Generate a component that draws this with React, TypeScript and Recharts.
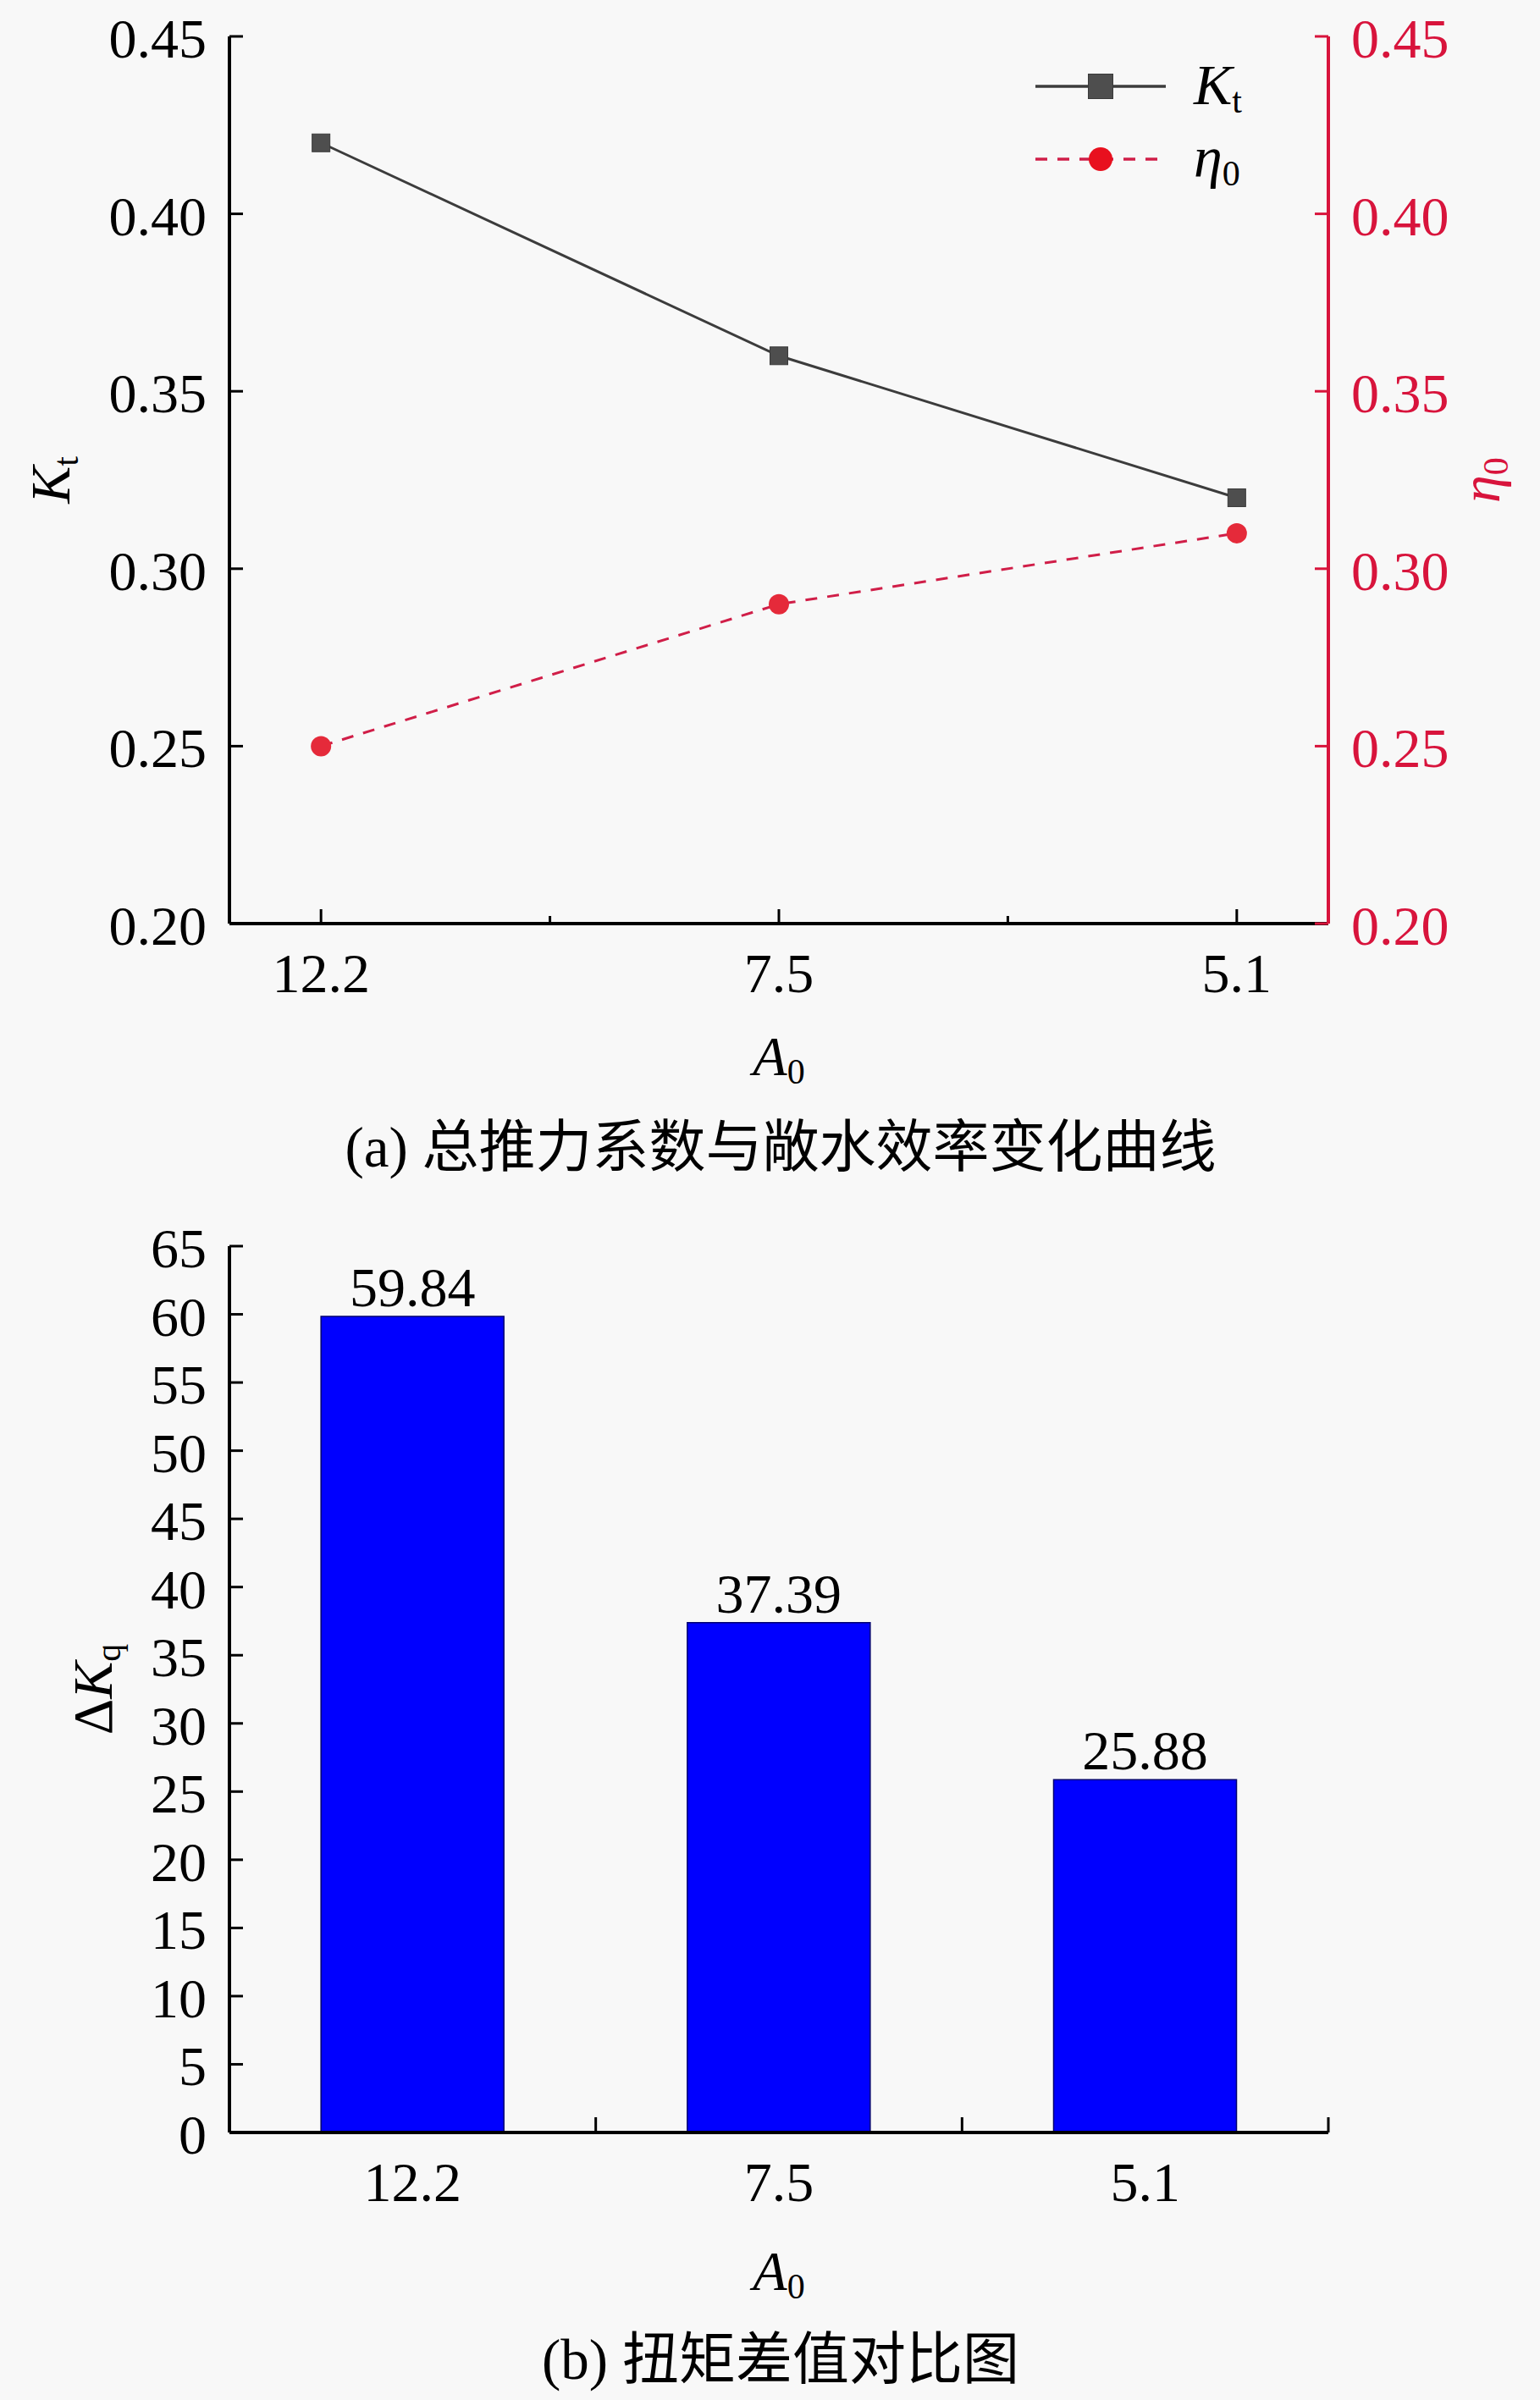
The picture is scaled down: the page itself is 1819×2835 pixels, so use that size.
import React from "react";
import {
  LineChart,
  Line,
  BarChart,
  Bar,
  XAxis,
  YAxis,
  Legend,
  Label,
  LabelList,
} from "recharts";

// values
const A0_LABELS = ["12.2", "7.5", "5.1"];
const KT_VALUES = [0.42, 0.36, 0.32];
const ETA_VALUES = [0.25, 0.29, 0.31];
const DKQ_VALUES = [59.84, 37.39, 25.88];

const LINE_Y_TICKS = [0.2, 0.25, 0.3, 0.35, 0.4, 0.45];
const LINE_X_TICKS = [0, 0.5, 1, 1.5, 2];
const BAR_Y_TICKS = [0, 5, 10, 15, 20, 25, 30, 35, 40, 45, 50, 55, 60, 65];

const W = 1819;
const PLOT_LEFT = 271;
const PLOT_RIGHT = 1569;
const BG = "#f8f8f8";
const RED = "#d8143c";
const SERIF = "Liberation Serif, Times New Roman, serif";
const CAPTION_FONT = "Liberation Serif, Noto Sans CJK SC, sans-serif";
const FS = 66;

const lineData = A0_LABELS.map((a0, i) => ({
  idx: i,
  a0,
  kt: KT_VALUES[i],
  eta: ETA_VALUES[i],
}));

const barData = A0_LABELS.map((a0, i) => ({ a0, dkq: DKQ_VALUES[i] }));

const SERIES: Record<string, any> = {
  kt: { sym: "K", sub: "t", color: "#3c3c3c", dash: undefined, marker: "square" },
  eta: { sym: "η", sub: "0", color: "#d01e48", dash: "14 12", marker: "circle" },
};

function YTick(props: any) {
  const { x, y, payload, side = "left", digits = 2, color = "#000" } = props;
  const dir = side === "left" ? 1 : -1;
  return (
    <g>
      <line x1={x} x2={x + dir * 16} y1={y} y2={y} stroke={color} strokeWidth={3} />
      <text
        x={x - dir * 27}
        y={y}
        dy={25}
        textAnchor={side === "left" ? "end" : "start"}
        fontSize={FS}
        fontFamily={SERIF}
        fill={color}
      >
        {Number(payload.value).toFixed(digits)}
      </text>
    </g>
  );
}

function LineXTick(props: any) {
  const { x, y, payload } = props;
  const v = payload.value;
  const major = Number.isInteger(v);
  return (
    <g>
      <line x1={x} x2={x} y1={y} y2={y - (major ? 17 : 9)} stroke="#000" strokeWidth={3} />
      {major && (
        <text x={x} y={y + 81} textAnchor="middle" fontSize={FS} fontFamily={SERIF} fill="#000">
          {A0_LABELS[v]}
        </text>
      )}
    </g>
  );
}

function BarXTick(props: any) {
  const { x, y, payload } = props;
  const step = (PLOT_RIGHT - PLOT_LEFT) / A0_LABELS.length;
  return (
    <g>
      <line x1={x + step / 2} x2={x + step / 2} y1={y} y2={y - 18} stroke="#000" strokeWidth={3} />
      <text x={x} y={y + 81} textAnchor="middle" fontSize={FS} fontFamily={SERIF} fill="#000">
        {payload.value}
      </text>
    </g>
  );
}

function SquareDot(props: any) {
  const { cx, cy, index } = props;
  return <rect key={`sq-${index}`} x={cx - 10.5} y={cy - 10.5} width={21} height={21} fill="#4e4e4e" stroke="#3a3a3a" strokeWidth={1} />;
}

function CircleDot(props: any) {
  const { cx, cy, index } = props;
  return <circle key={`ci-${index}`} cx={cx} cy={cy} r={12} fill="#e52a3a" />;
}

function LineLegend(props: any) {
  const items = props.payload || [];
  return (
    <svg width={300} height={190} style={{ display: "block" }}>
      {items.map((entry: any, i: number) => {
        const s = SERIES[entry.dataKey];
        if (!s) return null;
        const cy = 52 + i * 86;
        return (
          <g key={entry.dataKey}>
            <line x1={16} x2={170} y1={cy} y2={cy} stroke={s.color} strokeWidth={3.5} strokeDasharray={s.dash} />
            {s.marker === "square" ? (
              <rect x={93 - 14.5} y={cy - 14.5} width={29} height={29} fill="#4e4e4e" stroke="#3a3a3a" />
            ) : (
              <circle cx={93} cy={cy} r={14} fill="#e8101e" />
            )}
            <text x={203} y={cy + 21} fontSize={68} fontFamily={SERIF} fontStyle="italic" fill="#000">
              {s.sym}
              <tspan fontStyle="normal" fontSize={42} dy={10}>
                {s.sub}
              </tspan>
            </text>
          </g>
        );
      })}
    </svg>
  );
}

function RotatedTitle({ vb, offsetX, color = "#000", children }: any) {
  if (!vb) return null;
  const cx = vb.x + offsetX;
  const cy = vb.y + vb.height / 2;
  return (
    <text
      transform={`translate(${cx + 22},${cy}) rotate(-90)`}
      textAnchor="middle"
      fontSize={FS}
      fontFamily={SERIF}
      fill={color}
    >
      {children}
    </text>
  );
}

function BottomTitles({ vb, a0Dy, capDy, caption }: any) {
  if (!vb) return null;
  const cx = vb.x + vb.width / 2;
  return (
    <g>
      <text x={cx} y={vb.y + a0Dy} textAnchor="middle" fontSize={FS} fontFamily={SERIF} fontStyle="italic" fill="#000">
        A
        <tspan fontStyle="normal" fontSize={42} dy={10}>
          0
        </tspan>
      </text>
      <text x={cx + 2} y={vb.y + capDy} textAnchor="middle" fontSize={67} fontFamily={CAPTION_FONT} fill="#000">
        {caption}
      </text>
    </g>
  );
}

function BarValue(props: any) {
  const { x, y, width, value } = props;
  return (
    <text x={x + width / 2} y={y - 12} textAnchor="middle" fontSize={FS} fontFamily={SERIF} fill="#000">
      {Number(value).toFixed(2)}
    </text>
  );
}

export default function App() {
  return (
    <div
      style={{
        position: "absolute",
        left: 0,
        top: 0,
        width: W,
        height: 2835,
        background: BG,
        fontFamily: SERIF,
      }}
    >
      <LineChart width={W} height={1400} data={lineData} margin={{ top: 43, right: 0, bottom: 0, left: 0 }}>
        <XAxis
          type="number"
          dataKey="idx"
          domain={[-0.2, 2.2]}
          ticks={LINE_X_TICKS}
          interval={0}
          height={309}
          tickSize={0}
          tickMargin={0}
          tickLine={false}
          axisLine={{ stroke: "#000", strokeWidth: 4 }}
          tick={<LineXTick />}
        >
          <Label
            content={(p: any) => (
              <BottomTitles vb={p.viewBox} a0Dy={179} capDy={287} caption="(a) 总推力系数与敞水效率变化曲线" />
            )}
          />
        </XAxis>
        <YAxis
          yAxisId="left"
          domain={[0.2, 0.45]}
          ticks={LINE_Y_TICKS}
          interval={0}
          width={PLOT_LEFT}
          tickSize={0}
          tickMargin={0}
          tickLine={false}
          axisLine={{ stroke: "#000", strokeWidth: 4 }}
          tick={<YTick side="left" digits={2} />}
        >
          <Label
            content={(p: any) => (
              <RotatedTitle vb={p.viewBox} offsetX={60}>
                <tspan fontStyle="italic">K</tspan>
                <tspan fontSize={42} dy={10}>t</tspan>
              </RotatedTitle>
            )}
          />
        </YAxis>
        <YAxis
          yAxisId="right"
          orientation="right"
          domain={[0.2, 0.45]}
          ticks={LINE_Y_TICKS}
          interval={0}
          width={W - PLOT_RIGHT}
          tickSize={0}
          tickMargin={0}
          tickLine={false}
          axisLine={{ stroke: RED, strokeWidth: 4 }}
          tick={<YTick side="right" digits={2} color={RED} />}
        >
          <Label
            content={(p: any) => (
              <RotatedTitle vb={p.viewBox} offsetX={180} color={RED}>
                <tspan fontStyle="italic">η</tspan>
                <tspan fontSize={42} dy={10}>0</tspan>
              </RotatedTitle>
            )}
          />
        </YAxis>
        <Legend
          layout="horizontal"
          verticalAlign="middle"
          align="center"
          content={<LineLegend />}
          wrapperStyle={{ position: "absolute", left: 1207, top: 50, width: 300, height: 190 }}
        />
        <Line
          yAxisId="left"
          type="linear"
          dataKey="kt"
          name="Kt"
          stroke={SERIES.kt.color}
          strokeWidth={3}
          dot={SquareDot}
          activeDot={false}
          isAnimationActive={false}
        />
        <Line
          yAxisId="right"
          type="linear"
          dataKey="eta"
          name="η0"
          stroke={SERIES.eta.color}
          strokeWidth={3}
          strokeDasharray={SERIES.eta.dash}
          dot={CircleDot}
          activeDot={false}
          isAnimationActive={false}
        />
      </LineChart>

      <BarChart
        width={W}
        height={1435}
        data={barData}
        margin={{ top: 72, right: W - PLOT_RIGHT, bottom: 0, left: 0 }}
        barCategoryGap="25%"
      >
        <XAxis
          dataKey="a0"
          height={316}
          interval={0}
          tickSize={0}
          tickMargin={0}
          tickLine={false}
          axisLine={{ stroke: "#000", strokeWidth: 4 }}
          tick={<BarXTick />}
        >
          <Label
            content={(p: any) => (
              <BottomTitles vb={p.viewBox} a0Dy={186} capDy={291} caption="(b) 扭矩差值对比图" />
            )}
          />
        </XAxis>
        <YAxis
          domain={[0, 65]}
          ticks={BAR_Y_TICKS}
          interval={0}
          width={PLOT_LEFT}
          tickSize={0}
          tickMargin={0}
          tickLine={false}
          axisLine={{ stroke: "#000", strokeWidth: 4 }}
          tick={<YTick side="left" digits={0} />}
        >
          <Label
            content={(p: any) => (
              <RotatedTitle vb={p.viewBox} offsetX={110}>
                <tspan>Δ</tspan>
                <tspan fontStyle="italic">K</tspan>
                <tspan fontSize={42} dy={10}>q</tspan>
              </RotatedTitle>
            )}
          />
        </YAxis>
        <Bar dataKey="dkq" fill="#0000ff" stroke="#000070" strokeWidth={1.5} isAnimationActive={false}>
          <LabelList dataKey="dkq" content={<BarValue />} />
        </Bar>
      </BarChart>
    </div>
  );
}
